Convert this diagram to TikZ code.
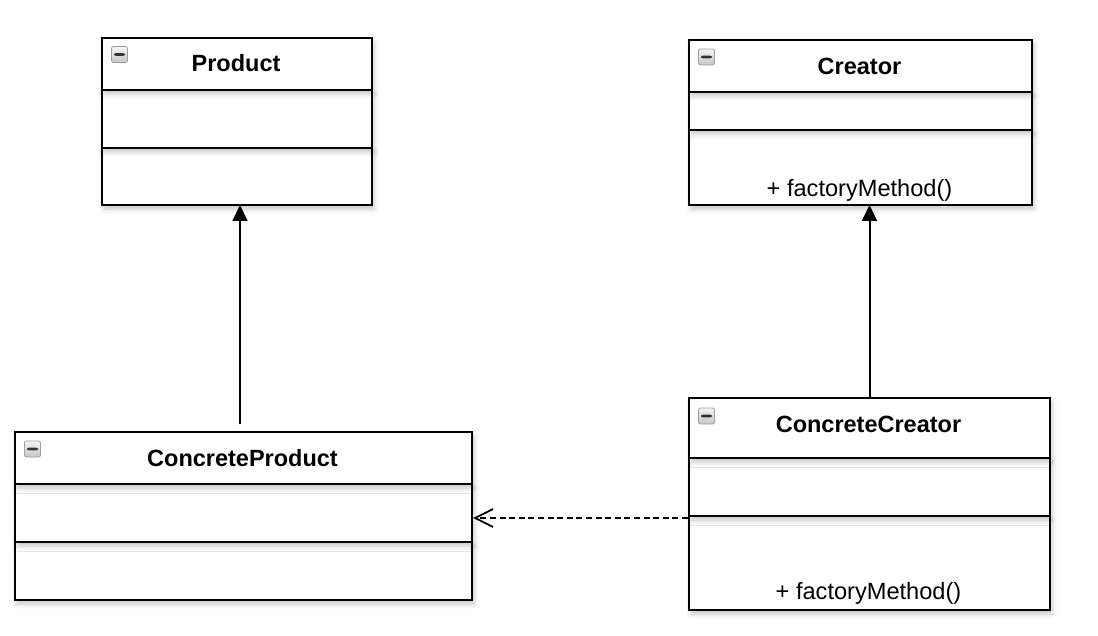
\documentclass[tikz,border=0pt]{standalone}
\usepackage{fontspec}
\setmainfont{Liberation Sans}
\usetikzlibrary{arrows.meta,shadows.blur}
\begin{document}
\begin{tikzpicture}[x=1pt,y=-1pt,
  comp/.style={draw, line width=2pt, fill=white, inner sep=0pt, anchor=north west,
    blur shadow={shadow xshift=2pt, shadow yshift=-4pt, shadow blur radius=5pt,
      shadow opacity=22}},
  classtitle/.style={font=\bfseries\fontsize{23.5}{28}\selectfont, anchor=base, inner sep=0pt},
  meth/.style={font=\fontsize{23.6}{28}\selectfont, anchor=base, inner sep=0pt},
  icon/.style={draw=gray!75, line width=0.8pt, rounded corners=2pt, minimum size=16pt,
    inner sep=0pt, top color=gray!8, bottom color=gray!45,
    path picture={\fill[black!80] ([xshift=-5.5pt,yshift=-1.4pt]path picture bounding box.center)
      rectangle ([xshift=5.5pt,yshift=1.4pt]path picture bounding box.center);}},
  inh/.style={line width=2pt, -{Triangle[length=16pt,width=15pt]}, shorten >=-1pt},
  dep/.style={line width=1.8pt, dash pattern=on 6pt off 3.6pt,
    -{Straight Barb[length=18pt,width=18pt,line width=1.8pt]}}
]
\useasboundingbox (0,0) rectangle (1098,636);

% Product
\node[comp, minimum width=270pt, minimum height=57pt] (prodm) at (101,147) {};
\node[comp, minimum width=270pt, minimum height=58pt] (proda) at (101,89) {};
\node[comp, minimum width=270pt, minimum height=52pt] (prodt) at (101,37) {};
\node[classtitle] (prodT) at (236,72) {Product};
\node[icon] (prodI) at (119.5,54.5) {};

% Creator
\node[comp, minimum width=343pt, minimum height=75pt] (crm) at (688,129) {};
\node[comp, minimum width=343pt, minimum height=38pt] (cra) at (688,91) {};
\node[comp, minimum width=343pt, minimum height=52pt] (crt) at (688,39) {};
\node[classtitle] (crT) at (859.5,75) {Creator};
\node[meth] (crM) at (859.5,197) {+ factoryMethod()};
\node[icon] (crI) at (706.5,57) {};

% ConcreteProduct
\node[comp, minimum width=457pt, minimum height=58pt] (cpm) at (14,541) {};
\node[comp, minimum width=457pt, minimum height=58pt] (cpa) at (14,483) {};
\node[comp, minimum width=457pt, minimum height=52pt] (cpt) at (14,431) {};
\node[classtitle] (cpT) at (242.5,466) {ConcreteProduct};
\node[icon] (cpI) at (32.5,449) {};

% ConcreteCreator
\node[comp, minimum width=361pt, minimum height=94pt] (ccm) at (688,515) {};
\node[comp, minimum width=361pt, minimum height=58pt] (cca) at (688,457) {};
\node[comp, minimum width=361pt, minimum height=60pt] (cct) at (688,397) {};
\node[classtitle] (ccT) at (868.5,432) {ConcreteCreator};
\node[meth] (ccM) at (868.5,599) {+ factoryMethod()};
\node[icon] (ccI) at (706.5,416) {};

% connectors
\draw[inh] ([xshift=-3.5pt,yshift=7pt]cpt.north) -- ([xshift=-3.5pt]cpt.north |- prodm.south);
\draw[inh] (cct.north) -- (cct.north |- crm.south);
\draw[dep] ([yshift=-1pt]cca.south west) -- ([yshift=-1pt]cca.south west -| cpa.east);
\end{tikzpicture}
\end{document}
